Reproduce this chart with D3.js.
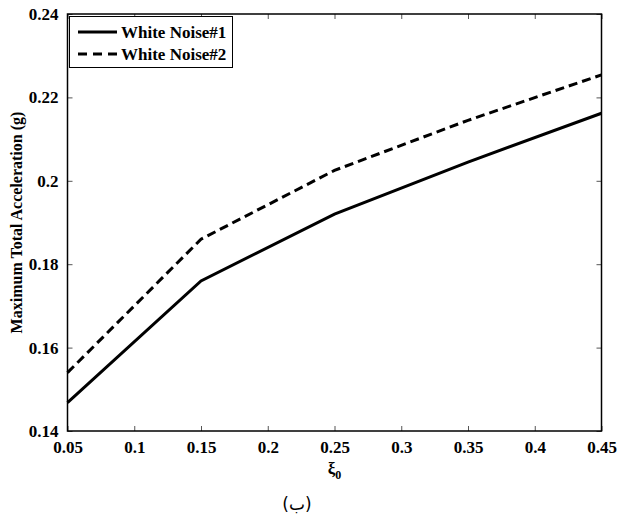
<!DOCTYPE html>
<html>
<head>
<meta charset="utf-8">
<script src="https://cdn.jsdelivr.net/npm/d3@7"></script>
<style>
  body { margin: 0; background: #fff; }
  svg text { font-family: "Liberation Serif", "Times New Roman", Times, serif !important; font-weight: bold; }
  svg text.arabic { font-family: "DejaVu Sans", "Noto Sans", sans-serif !important; font-weight: normal; }
</style>
</head>
<body>
<div id="main"></div>
<script>
var width = 619,
    height = 517;

var xi0 = [0.05, 0.15, 0.25, 0.35, 0.45];
var noise1 = [0.1468, 0.176, 0.192, 0.2045, 0.2162];
var noise2 = [0.154, 0.186, 0.2025, 0.2145, 0.2254];
var xTicks = [0.05, 0.1, 0.15, 0.2, 0.25, 0.3, 0.35, 0.4, 0.45];
var yTicks = [0.14, 0.16, 0.18, 0.2, 0.22, 0.24];
var seriesNames = ["White Noise#1", "White Noise#2"];

var plot = {left: 67.5, right: 601.5, top: 14, bottom: 431};

var x = d3.scaleLinear().domain([0.05, 0.45]).range([plot.left, plot.right]);
var y = d3.scaleLinear().domain([0.14, 0.24]).range([plot.bottom, plot.top]);

var svg = d3.select("div#main").append("svg")
    .attr("width", width)
    .attr("height", height);

var fmt = function(d) { return String(+d.toFixed(2)); };

// bottom axis with labels, ticks pointing inward
svg.append("g")
    .attr("transform", `translate(0,${plot.bottom})`)
    .call(d3.axisBottom(x).tickValues(xTicks).tickSizeInner(-5).tickSizeOuter(0).tickPadding(10).tickFormat(fmt))
    .call(function(g) {
        g.select(".domain").remove();
        g.selectAll("text").attr("font-size", 17);
    });

// top axis, ticks only
svg.append("g")
    .attr("transform", `translate(0,${plot.top})`)
    .call(d3.axisTop(x).tickValues(xTicks).tickSizeInner(-5).tickSizeOuter(0).tickFormat(""))
    .call(function(g) { g.select(".domain").remove(); });

// left axis
svg.append("g")
    .attr("transform", `translate(${plot.left},0)`)
    .call(d3.axisLeft(y).tickValues(yTicks).tickSizeInner(-5).tickSizeOuter(0).tickPadding(9).tickFormat(fmt))
    .call(function(g) {
        g.select(".domain").remove();
        g.selectAll("text").attr("font-size", 17);
    });

// right axis, ticks only
svg.append("g")
    .attr("transform", `translate(${plot.right},0)`)
    .call(d3.axisRight(y).tickValues(yTicks).tickSizeInner(-5).tickSizeOuter(0).tickFormat(""))
    .call(function(g) { g.select(".domain").remove(); });

svg.selectAll(".tick line").attr("stroke", "#555");

svg.append("rect")
    .attr("x", plot.left)
    .attr("y", plot.top)
    .attr("width", plot.right - plot.left)
    .attr("height", plot.bottom - plot.top)
    .attr("fill", "none")
    .attr("stroke", "#000")
    .attr("stroke-width", 1.5);

var line = d3.line()
    .x(function(d, i) { return x(xi0[i]); })
    .y(function(d) { return y(d); });

svg.append("path")
    .datum(noise1)
    .attr("d", line)
    .attr("fill", "none")
    .attr("stroke", "#000")
    .attr("stroke-width", 3);

svg.append("path")
    .datum(noise2)
    .attr("d", line)
    .attr("fill", "none")
    .attr("stroke", "#000")
    .attr("stroke-width", 3)
    .attr("stroke-dasharray", "9,5");

// legend
var lg = svg.append("g").attr("class", "legend");
lg.append("rect")
    .attr("x", 69.5)
    .attr("y", 16.5)
    .attr("width", 163)
    .attr("height", 51)
    .attr("fill", "#fff")
    .attr("stroke", "#000")
    .attr("stroke-width", 1);

seriesNames.forEach(function(name, i) {
    var ly = 32 + i * 22;
    lg.append("line")
        .attr("x1", 78).attr("x2", 117)
        .attr("y1", ly).attr("y2", ly)
        .attr("stroke", "#000")
        .attr("stroke-width", 3)
        .attr("stroke-dasharray", i == 1 ? "9,6" : null);
    lg.append("text")
        .attr("x", 121)
        .attr("y", ly + 6)
        .attr("font-size", 17)
        .text(name);
});

// axis titles
var xl = svg.append("text")
    .attr("x", x(0.25))
    .attr("y", 474)
    .attr("text-anchor", "middle")
    .attr("font-size", 17);
xl.append("tspan").text("\u03BE");
xl.append("tspan").attr("font-size", 12).attr("dy", 5).text("0");

svg.append("text")
    .attr("transform", `translate(22,${(plot.top + plot.bottom) / 2}) rotate(-90)`)
    .attr("text-anchor", "middle")
    .attr("font-size", 16)
    .text("Maximum Total Acceleration (g)");

svg.append("text")
    .attr("class", "arabic")
    .attr("x", 297)
    .attr("y", 510)
    .attr("text-anchor", "middle")
    .attr("font-size", 17)
    .text("(ب)");
</script>
</body>
</html>
